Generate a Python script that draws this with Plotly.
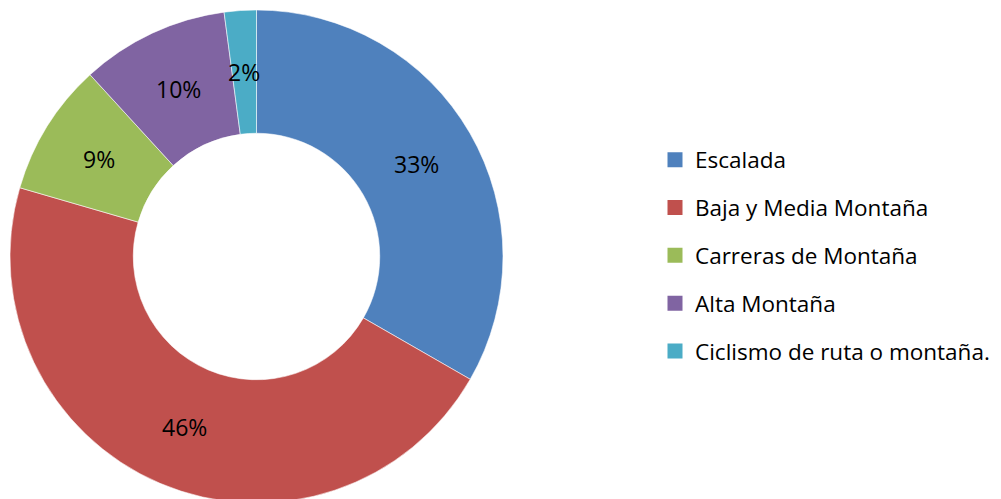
import math
import plotly.graph_objects as go

categories = ["Escalada", "Baja y Media Montaña", "Carreras de Montaña",
              "Alta Montaña", "Ciclismo de ruta o montaña."]
values = [33.3, 46.2, 8.7, 9.7, 2.1]
colors = ["#4F81BD", "#C0504D", "#9BBB59", "#8064A2", "#4BACC6"]

FONT = "Open Sans"
W, H = 1001, 499
OFF = 8  # page body margin
HOLE = 0.5

dom_x = [(10 - OFF) / W, (503 - OFF) / W]
dom_y = [(H - (503 - OFF)) / H, (H - (10 - OFF)) / H]

fig = go.Figure()
fig.add_trace(go.Pie(
    labels=categories, values=values, sort=False, direction="clockwise",
    rotation=0, hole=HOLE,
    marker=dict(colors=colors, line=dict(color="rgba(255,255,255,0.7)", width=0.8)),
    textinfo="none",
    showlegend=False, hoverinfo="label+percent",
    domain=dict(x=dom_x, y=dom_y),
))

# data labels at mid-angle / mid-radius of each slice (as the original chart)
total = sum(values)
cx = (dom_x[0] + dom_x[1]) / 2
cy = (dom_y[0] + dom_y[1]) / 2
r_px = min((dom_x[1] - dom_x[0]) * W, (dom_y[1] - dom_y[0]) * H) / 2
r_mid = r_px * (1 + HOLE) / 2
cum = 0.0
for v in values:
    ang = (cum + v / 2) / total * 2 * math.pi
    cum += v
    fig.add_annotation(
        x=cx + r_mid * math.sin(ang) / W, y=cy + r_mid * math.cos(ang) / H,
        xref="paper", yref="paper", showarrow=False,
        text=f"{round(v / total * 100)}%", xanchor="center", yanchor="middle",
        font=dict(family=FONT, size=23, color="black"),
    )

for i, (cat, col) in enumerate(zip(categories, colors)):
    fig.add_trace(go.Scatter(
        x=[None], y=[None], mode="markers", name=cat,
        legendgroup=f"g{i}",
        marker=dict(symbol="square", size=15, color=col),
    ))

fig.update_layout(
    width=W, height=H,
    margin=dict(l=0, r=0, t=0, b=0),
    paper_bgcolor="white", plot_bgcolor="white",
    xaxis=dict(visible=False), yaxis=dict(visible=False),
    legend=dict(x=(655 - OFF) / W, xanchor="left",
                y=1 - (255.5 - OFF) / H, yanchor="middle",
                font=dict(family=FONT, size=22.5, color="black"),
                tracegroupgap=15.6, itemsizing="trace",
                bgcolor="rgba(0,0,0,0)"),
    font=dict(family=FONT),
)

fig.write_html("out.html")
